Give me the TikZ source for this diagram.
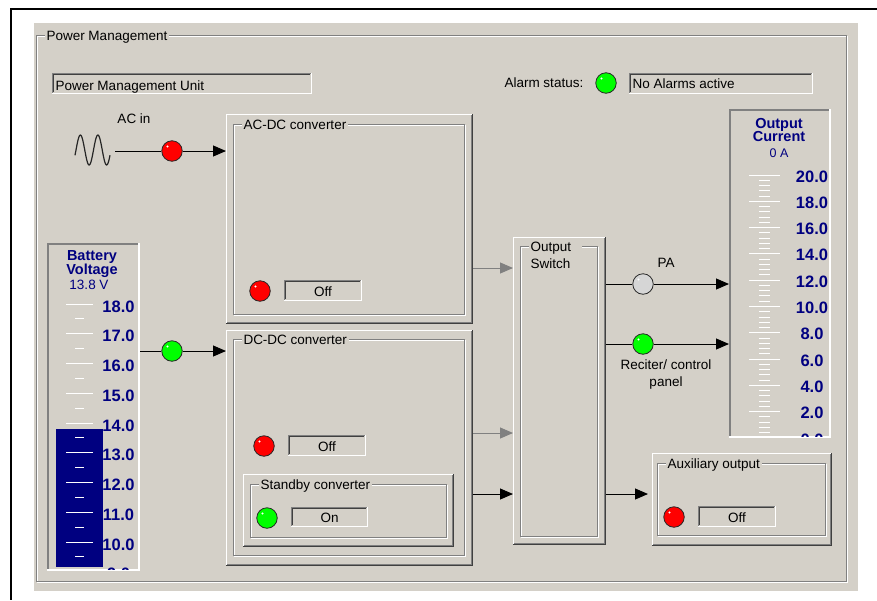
\documentclass[tikz,border=0pt]{standalone}
\usepackage{fontspec}
\setmainfont{Liberation Sans}
\usetikzlibrary{arrows.meta,fit}

\definecolor{panelbg}{HTML}{D4D0C8}
\definecolor{edgedark}{HTML}{404040}
\definecolor{edgemid}{HTML}{808080}
\definecolor{gaugeblue}{HTML}{000080}
\definecolor{ledred}{HTML}{FF0000}
\definecolor{ledgreen}{HTML}{00FF00}
\definecolor{ledgrey}{HTML}{D6D6D6}

\newcommand\guifont{\fontsize{13.5}{16}\selectfont}
\newcommand\gaugeheadfont{\fontsize{14.5}{14.5}\selectfont\bfseries}
\newcommand\gaugenumfont{\fontsize{16.5}{16.5}\selectfont\bfseries}

% raised 3D panel: name, x1, y1, x2, y2
\newcommand\raisedframe[5]{%
  \node[inner sep=0pt, outer sep=0pt, fit={(#2,#3)(#4,#5)}] (#1) {};
  \draw[white] (#2+0.5,#5-1) |- (#4-1,#3+0.5);
  \draw[edgedark] (#2,#5-0.5) -| (#4-0.5,#3);
  \draw[edgemid] (#2+1,#5-1.5) -| (#4-1.5,#3+1);
}
% sunken text field: name, x1, y1, x2, y2
\newcommand\sunkenfield[5]{%
  \node[inner sep=0pt, outer sep=0pt, fit={(#2,#3)(#4,#5)}] (#1) {};
  \draw[white] (#2,#5-0.5) -| (#4-0.5,#3);
  \draw[edgemid] (#2+0.5,#5-1) |- (#4-1,#3+0.5);
  \draw[edgedark] (#2+1.5,#5-2) |- (#4-2,#3+1.5);
}
% sunken gauge well: name, x1, y1, x2, y2
\newcommand\sunkengauge[5]{%
  \node[inner sep=0pt, outer sep=0pt, fit={(#2,#3)(#4,#5)}] (#1) {};
  \draw[white, line width=2pt] (#2,#5-1) -| (#4-1,#3);
  \draw[edgemid, line width=2pt] (#2+1,#5-2) |- (#4-2,#3+1);
}
% etched group frame with title: [title options] name, x1, y1, x2, y2, title
\newcommand\etchedgroup[7][]{%
  \node[inner sep=0pt, outer sep=0pt, fit={(#3,#4)(#5,#6)}] (#2) {};
  \draw[white] (#3+1.5,#4+1.5) rectangle (#5-0.5,#6-0.5);
  \draw[edgemid] (#3+0.5,#4+0.5) rectangle (#5-1.5,#6-1.5);
  \node[grouptitle, #1] (#2-title) at (#3+8,#4+5) {#7};
}
% status lamp: name, x, y, colour
\newcommand\statusled[4]{%
  \node[lamp, fill=#4] (#1) at (#2,#3) {};
  \fill[white] (#2-4.5,#3-4.5) circle (1.1);
}

\begin{document}
\begin{tikzpicture}[x=1pt, y=-1pt, line width=1pt,
  label/.style={font=\guifont, inner sep=0pt, anchor=base west},
  grouptitle/.style={font=\guifont, fill=panelbg, inner xsep=2pt, inner ysep=1.5pt, anchor=base west},
  gaugehead/.style={font=\gaugeheadfont, text=gaugeblue, inner sep=0pt, anchor=base},
  gaugenum/.style={font=\gaugenumfont, text=gaugeblue, inner sep=0pt, anchor=base},
  lamp/.style={circle, draw=black!85, line width=0.8pt, minimum size=20.5pt, inner sep=0pt},
  wire/.style={line width=1pt, draw=black},
  greywire/.style={line width=1pt, draw=edgemid},
  arrowend/.style={-{Triangle[length=13pt,width=11pt]}},
]
\useasboundingbox (0,0) rectangle (877,600);
\fill[white] (0,0) rectangle (877,600);
\fill[black] (10,8) rectangle (877,10);
\fill[black] (10,8) rectangle (12,600);
\fill[panelbg] (34,23) rectangle (858,591);

% outer group
\etchedgroup{pm}{36}{35}{848}{583}{Power Management}

% unit name and alarm state
\sunkenfield{pmu}{52}{73}{312}{94}
\node[label] (pmutext) at (55,90) {Power Management Unit};
\node[label] (alarmlbl) at (504,87) {Alarm status:};
\statusled{alarmled}{606}{83}{ledgreen}
\sunkenfield{alarmfield}{629}{73}{813}{94}
\node[label] (alarmtext) at (632,88) {No Alarms active};

% AC source
\node[label, anchor=base] (acinlbl) at (134,123) {AC in};
\draw[line width=1.2pt, black!85, smooth, samples=60, domain=75:110]
  plot (\x, {150-15*sin((\x-76)*360/17.5)});
\coordinate (acsrc) at (115,151);
\statusled{acled}{172}{151}{ledred}

% AC-DC converter
\raisedframe{acdc}{226}{114}{473}{324}
\etchedgroup{acdcgrp}{233}{124}{466}{316}{AC-DC converter}
\statusled{acdcled}{260}{291}{ledred}
\sunkenfield{acdcfield}{284}{280}{362}{301}
\node[label, anchor=base] (acdctext) at (323,296) {Off};

% DC-DC converter
\raisedframe{dcdc}{226}{330}{473}{566}
\etchedgroup{dcdcgrp}{233}{339}{466}{557}{DC-DC converter}
\statusled{dcdcled}{264}{446}{ledred}
\sunkenfield{dcdcfield}{288}{435}{366}{456}
\node[label, anchor=base] (dcdctext) at (327,451) {Off};
\raisedframe{stby}{243}{474}{454}{547}
\etchedgroup{stbygrp}{250}{484}{448}{539}{Standby converter}
\statusled{stbyled}{267}{518}{ledgreen}
\sunkenfield{stbyfield}{291}{507}{368}{527}
\node[label, anchor=base] (stbytext) at (329.5,522.5) {On};

% output switch
\raisedframe{switch}{513}{237}{606}{545}
\etchedgroup{switchgrp}{520}{246}{599}{538}{Output\hspace*{9pt}}
\node[label] (switchtitle) at (530,268.5) {Switch};

% auxiliary output
\raisedframe{aux}{652}{453}{832}{546}
\etchedgroup{auxgrp}{657}{463}{827}{537}{Auxiliary output}
\statusled{auxled}{674}{517}{ledred}
\sunkenfield{auxfield}{698}{506}{776}{527}
\node[label, anchor=base] (auxtext) at (737,522) {Off};

% battery voltage gauge
\sunkengauge{batt}{47}{243}{140}{571}
\node[gaugehead] (batthead1) at (92,260) {Battery};
\node[gaugehead] (batthead2) at (92,274) {Voltage};
\node[label, anchor=base, text=gaugeblue] (battvalue) at (89,289) {13.8 V};
\begin{scope}
  \clip (49,245) rectangle (138,569);
  \fill[gaugeblue] (56,429) rectangle (103,567);
  \foreach \v in {9,...,18}{
    \pgfmathsetmacro\ty{304+(18-\v)*29.75}
    \draw[white] (66,\ty) -- (93,\ty);
    \draw[white] (75,\ty+14.875) -- (84,\ty+14.875);
    \node[gaugenum] (bv\v) at (118.5,\ty+8) {\v.0};
  }
\end{scope}
\statusled{battled}{172}{351}{ledgreen}

% output current gauge
\sunkengauge{ocur}{729}{109}{831}{438}
\node[gaugehead] (ochead1) at (779,128) {Output};
\node[gaugehead] (ochead2) at (779,141) {Current};
\node[label, anchor=base, text=gaugeblue, font=\fontsize{12.5}{12.5}\selectfont] (ocvalue) at (779,157) {0 A};
\begin{scope}
  \clip (731,111) rectangle (829,436);
  \foreach \v in {0,2,...,20}{
    \pgfmathsetmacro\ty{175+(20-\v)*13.15}
    \draw[white] (749,\ty) -- (780,\ty);
    \node[gaugenum] (oc\v) at (812,\ty+7) {\v.0};
  }
  \foreach \v in {2,4,...,20}{
    \foreach \m in {1,2,3,4}{
      \pgfmathsetmacro\ty{175+(20-\v)*13.15+\m*5.26}
      \draw[white] (759,\ty) -- (770,\ty);
    }
  }
\end{scope}

% switch outputs
\statusled{paled}{643}{284}{ledgrey}
\node[label, anchor=base] (palbl) at (666,267) {PA};
\statusled{recled}{643}{344}{ledgreen}
\node[label, anchor=base] (reclbl1) at (666,369) {Reciter/ control};
\node[label, anchor=base] (reclbl2) at (666,386) {panel};

% connections
\draw[wire] (acsrc) -- (acled.west);
\draw[wire, arrowend] (acled.east) -- (acled -| acdc.west);
\draw[wire] (battled -| batt.east) -- (battled.west);
\draw[wire, arrowend] (battled.east) -- (battled -| dcdc.west);
\draw[greywire, arrowend] (acdc.east |- 0,268) -- (switch.west |- 0,268);
\draw[greywire, arrowend] (dcdc.east |- 0,433) -- (switch.west |- 0,433);
\draw[wire, arrowend] (dcdc.east |- 0,494) -- (switch.west |- 0,494);
\draw[wire] (paled -| switch.east) -- (paled.west);
\draw[wire, arrowend] (paled.east) -- (paled -| ocur.west);
\draw[wire] (recled -| switch.east) -- (recled.west);
\draw[wire, arrowend] (recled.east) -- (recled -| ocur.west);
\draw[wire, arrowend, shorten >=4pt] (switch.east |- 0,494) -- (aux.west |- 0,494);
\end{tikzpicture}
\end{document}
